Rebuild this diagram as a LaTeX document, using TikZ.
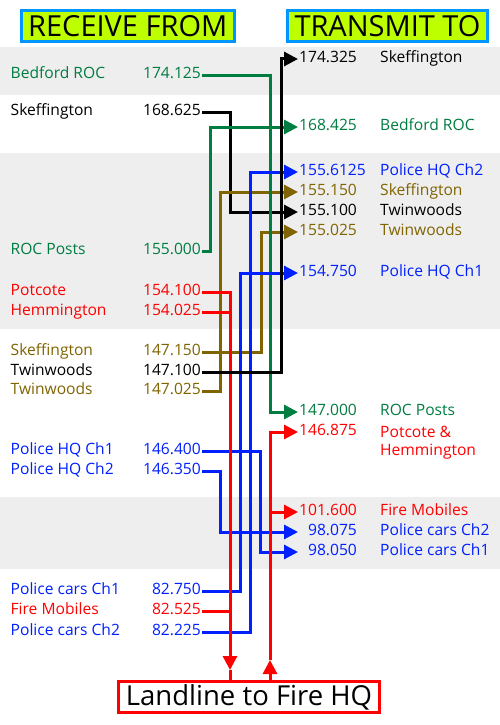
\documentclass[tikz,border=0pt]{standalone}
\usepackage{fontspec}
\setmainfont{Open Sans}
\usetikzlibrary{arrows.meta}
\definecolor{cgreen}{RGB}{0,125,65}
\definecolor{colive}{RGB}{128,100,0}
\definecolor{cblue}{RGB}{0,32,255}
\definecolor{cred}{RGB}{255,0,0}
\definecolor{cband}{RGB}{238,238,238}
\definecolor{clime}{RGB}{190,255,0}
\definecolor{cframe}{RGB}{0,150,255}
\begin{document}
\begin{tikzpicture}[x=1pt,y=-1pt,
 txt/.style={inner xsep=1pt, inner ysep=0pt, text height=0.714em, text depth=0pt, font=\fontsize{15.6}{18}\selectfont},
 lname/.style={txt, anchor=west},
 lfreq/.style={txt, anchor=east},
 rfreq/.style={txt, anchor=west},
 rname/.style={txt, anchor=west},
 wire/.style={line width=3pt},
 tip/.style={-{Triangle[length=14pt,width=14pt]}},
 tx/.style={wire, tip},
 head/.style={draw=cframe, fill=clime, line width=3pt, inner sep=0pt, font=\fontsize{29}{29}\selectfont},
 hqbox/.style={draw=cred, fill=white, line width=3pt, inner sep=0pt, font=\fontsize{27.5}{28}\selectfont}
]
\useasboundingbox (0,0) rectangle (500,725);
\fill[white] (0,0) rectangle (500,725);
% bands
\fill[cband] (0,47) rectangle (500,95);
\fill[cband] (0,153) rectangle (500,329);
\fill[cband] (0,497) rectangle (500,569);
% headers
\node[head, minimum width=213.5pt, minimum height=31pt] (recv) at (127.75,26) {RECEIVE FROM};
\node[head, minimum width=200pt, minimum height=31pt] (trans) at (387.5,26) {TRANSMIT TO};
\node[hqbox, minimum width=261pt, minimum height=31pt] (hq) at (249,697) {Landline to Fire HQ};
% lanes
\coordinate (x210) at (210,0);
\coordinate (x220) at (220,0);
\coordinate (x230) at (230,0);
\coordinate (x240) at (240,0);
\coordinate (x250) at (250,0);
\coordinate (x260) at (260,0);
\coordinate (x261) at (261,0);
\coordinate (x270) at (270,0);
\coordinate (x281) at (281,0);
% left side
\node[lname, cgreen] (N1) at (9.5,75) {Bedford ROC};
\node[lfreq, cgreen] (L1) at (202,75) {174.125};
\node[lname] (N2) at (9.5,112) {Skeffington};
\node[lfreq] (L2) at (202,112) {168.625};
\node[lname, cgreen] (N3) at (9.5,251) {ROC Posts};
\node[lfreq, cgreen] (L3) at (202,251) {155.000};
\node[lname, cred] (N4) at (9.5,292) {Potcote};
\node[lfreq, cred] (L4) at (202,292) {154.100};
\node[lname, cred] (N5) at (9.5,312) {Hemmington};
\node[lfreq, cred] (L5) at (202,312) {154.025};
\node[lname, colive] (N6) at (9.5,352) {Skeffington};
\node[lfreq, colive] (L6) at (202,352) {147.150};
\node[lname] (N7) at (9.5,372) {Twinwoods};
\node[lfreq] (L7) at (202,372) {147.100};
\node[lname, colive] (N8) at (9.5,391) {Twinwoods};
\node[lfreq, colive] (L8) at (202,391) {147.025};
\node[lname, cblue] (N9) at (9.5,451) {Police HQ Ch1};
\node[lfreq, cblue] (L9) at (202,451) {146.400};
\node[lname, cblue] (N10) at (9.5,471) {Police HQ Ch2};
\node[lfreq, cblue] (L10) at (202,471) {146.350};
\node[lname, cblue] (N11) at (9.5,591) {Police cars Ch1};
\node[lfreq, cblue] (L11) at (202,591) {82.750};
\node[lname, cred] (N12) at (9.5,611) {Fire Mobiles};
\node[lfreq, cred] (L12) at (202,611) {82.525};
\node[lname, cblue] (N13) at (9.5,632) {Police cars Ch2};
\node[lfreq, cblue] (L13) at (202,632) {82.225};
% right side
\node[rfreq] (R1) at (298,59) {174.325};
\node[rname] (M1) at (379,59) {Skeffington};
\node[rfreq, cgreen] (R2) at (298,127) {168.425};
\node[rname, cgreen] (M2) at (379,127) {Bedford ROC};
\node[rfreq, cblue] (R3) at (298,172) {155.6125};
\node[rname, cblue] (M3) at (379,172) {Police HQ Ch2};
\node[rfreq, colive] (R4) at (298,192) {155.150};
\node[rname, colive] (M4) at (379,192) {Skeffington};
\node[rfreq] (R5) at (298,212) {155.100};
\node[rname] (M5) at (379,212) {Twinwoods};
\node[rfreq, colive] (R6) at (298,232) {155.025};
\node[rname, colive] (M6) at (379,232) {Twinwoods};
\node[rfreq, cblue] (R7) at (298,273) {154.750};
\node[rname, cblue] (M7) at (379,273) {Police HQ Ch1};
\node[rfreq, cgreen] (R8) at (298,412) {147.000};
\node[rname, cgreen] (M8) at (379,412) {ROC Posts};
\node[rfreq, cred] (R9) at (298,432) {146.875};
\node[cred, inner sep=0pt, anchor=base west, font=\fontsize{15.6}{18}\selectfont] (M9) at (380,437.6) {\begin{tabular}[t]{@{}l@{}}Potcote \&\\Hemmington\end{tabular}};
\node[rfreq, cred] (R10) at (298,512) {101.600};
\node[rname, cred] (M10) at (379,512) {Fire Mobiles};
\node[rfreq, cblue] (R11) at (298,532) {\phantom{0}98.075};
\node[rname, cblue] (M11) at (379,532) {Police cars Ch2};
\node[rfreq, cblue] (R12) at (298,552) {\phantom{0}98.050};
\node[rname, cblue] (M12) at (379,552) {Police cars Ch1};
% red feed into landline
\coordinate (rdn) at (230,670);
\coordinate (rup) at (270,660);
% connectors
\draw[tx] (L2.east) -| (x230 |- R5.west) -- (R5.west);
\draw[tx, colive] (L6.east) -| (x261 |- R6.west) -- (R6.west);
\draw[tx, colive] (L8.east) -| (x220 |- R4.west) -- (R4.west);
\draw[tx, cgreen] (L1.east) -| (x270 |- R8.west) -- (R8.west);
\draw[tx, cgreen] (L3.east) -| (x210 |- R2.west) -- (R2.west);
\draw[tx, cblue] (L9.east) -| (x260 |- R12.west) -- (R12.west);
\draw[tx, cblue] (L10.east) -| (x220 |- R11.west) -- (R11.west);
\draw[tx, cblue] (L11.east) -| (x240 |- R7.west) -- (R7.west);
\draw[tx, cblue] (L13.east) -| (x250 |- R3.west) -- (R3.west);
\draw[wire, cred] (L5.east) -- (L5.east -| x230);
\draw[wire, cred] (L12.east) -- (L12.east -| x230);
\draw[tx, cred] (L4.east) -| (rdn);
\draw[wire, cred] (rdn) -- (hq.north -| rdn);
\draw[tx, cred] (hq.north -| rup) -- (rup);
\draw[tx, cred] (rup) -- (x270 |- R9.west) -- (R9.west);
\draw[tx, cred] (x270 |- R10.west) -- (R10.west);
\draw[tx] (L7.east) -| (x281 |- R1.west) -- (R1.west);
\end{tikzpicture}
\end{document}
